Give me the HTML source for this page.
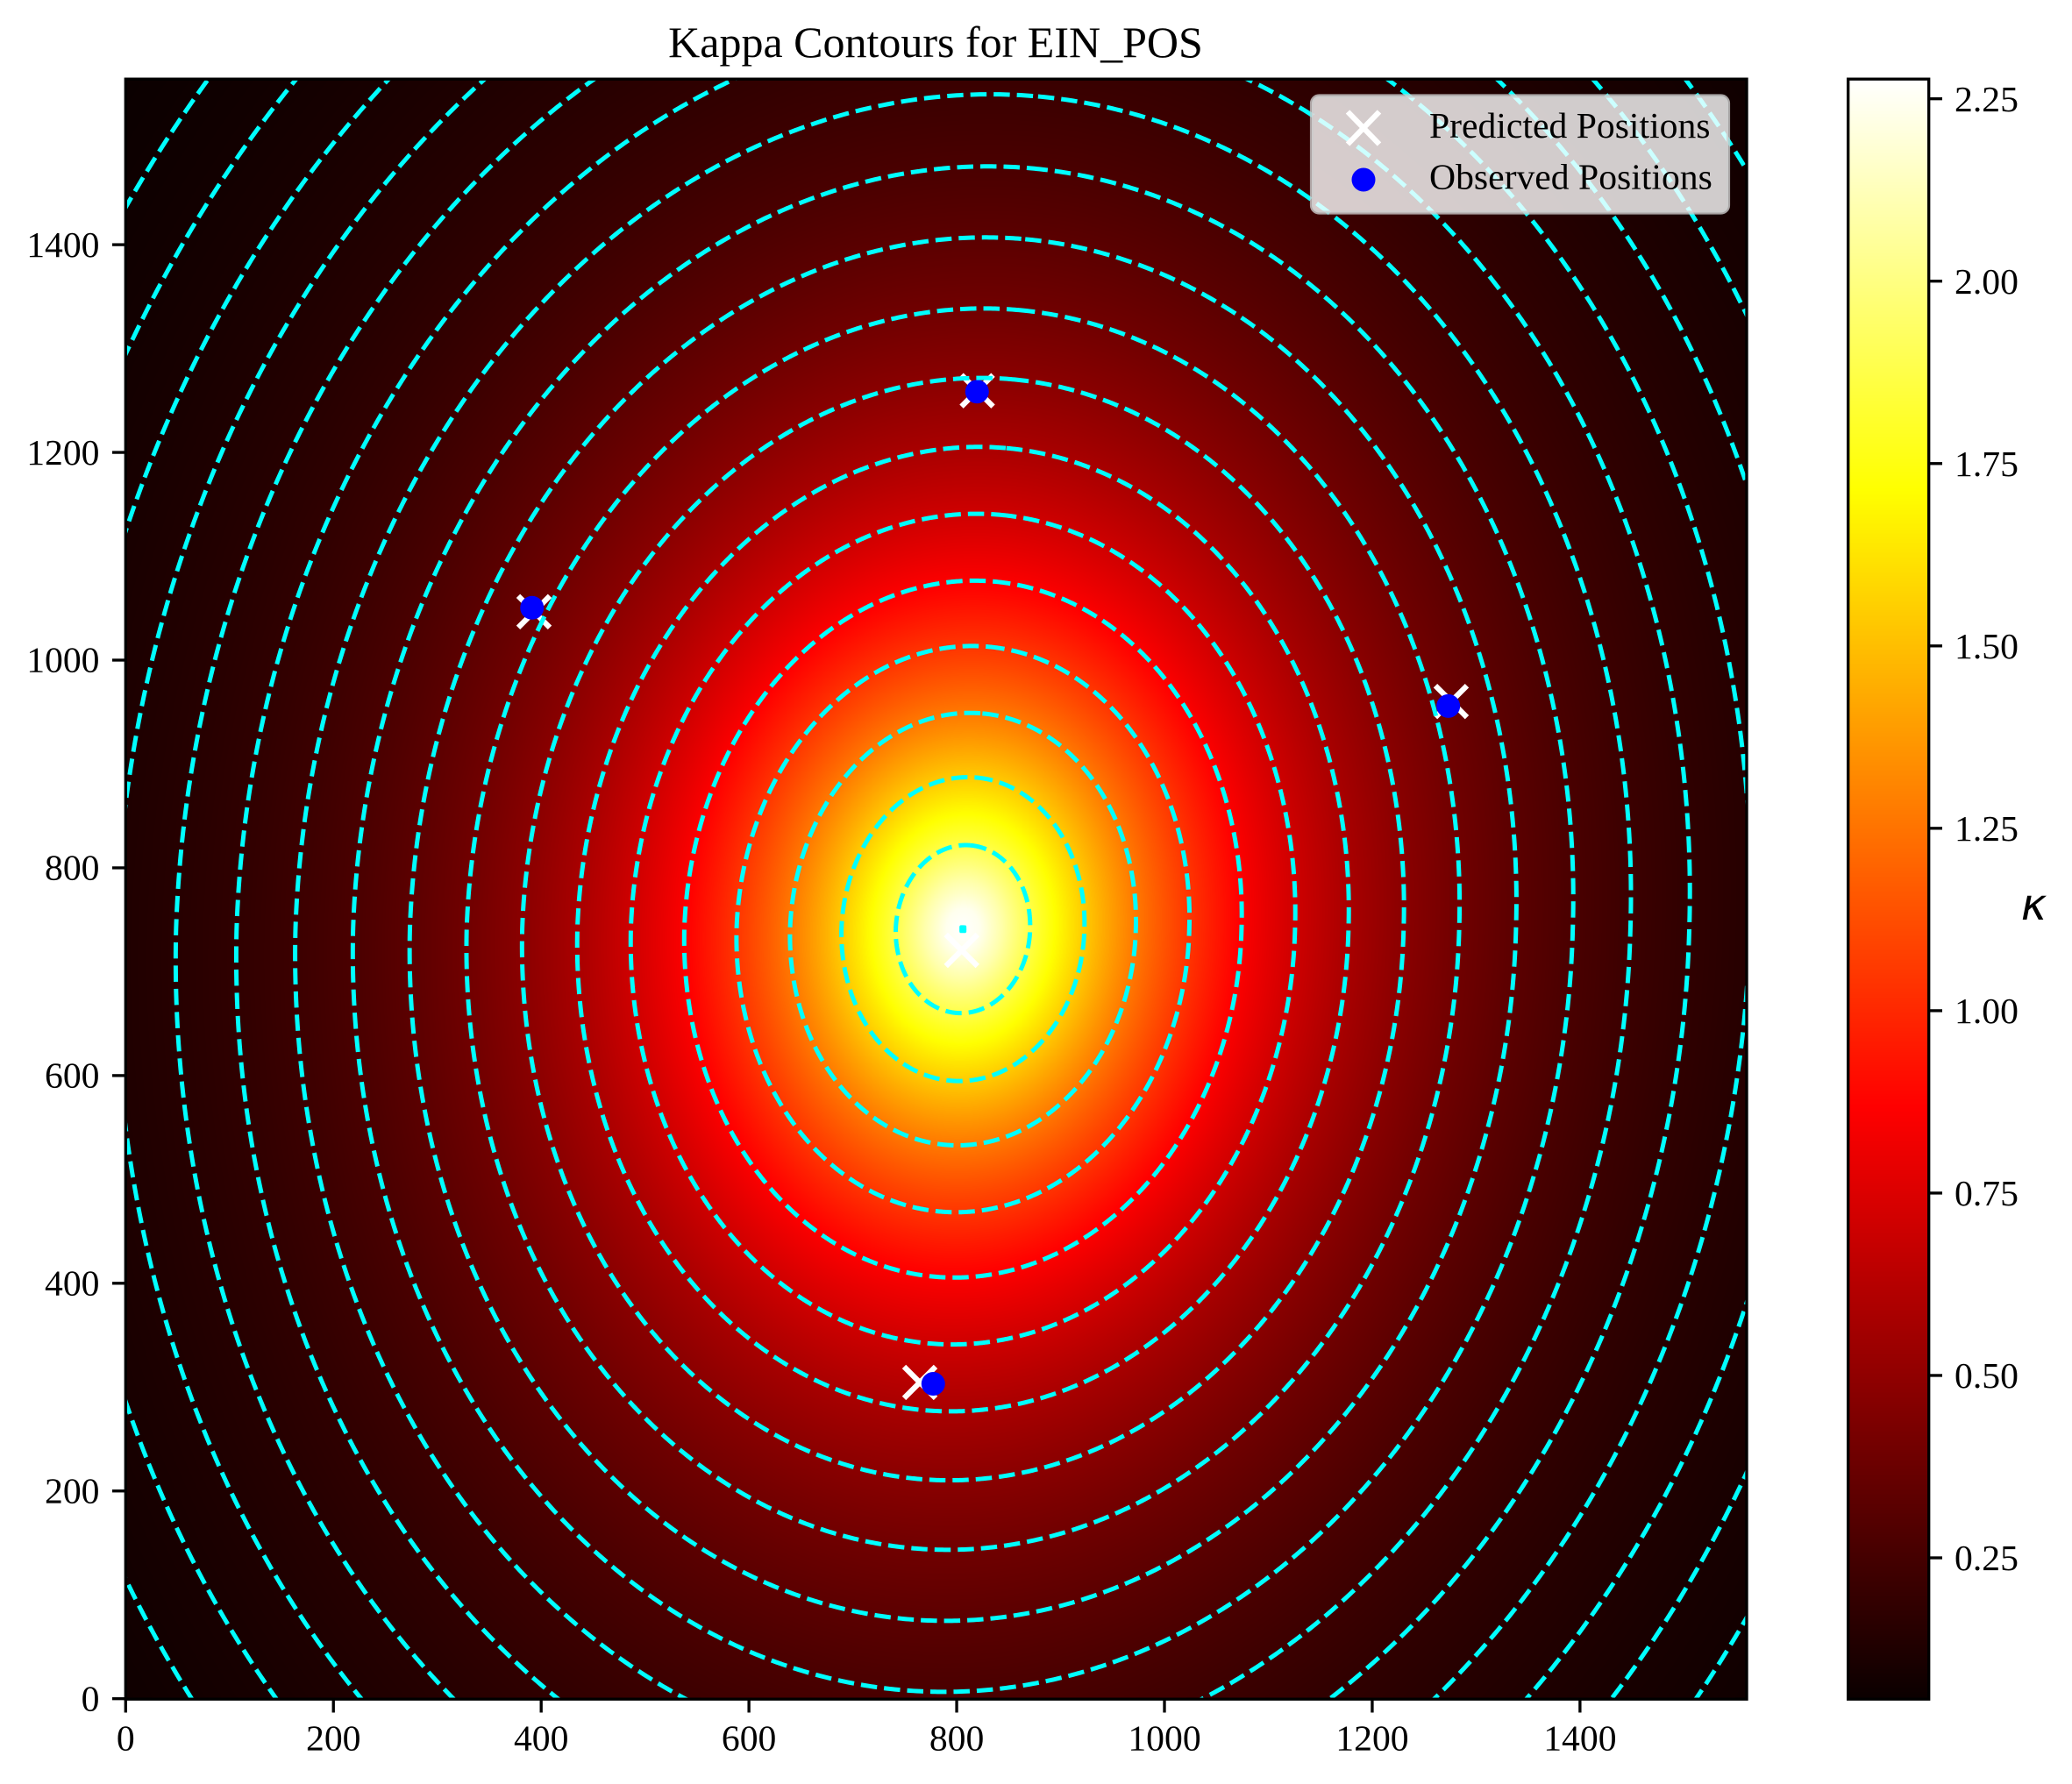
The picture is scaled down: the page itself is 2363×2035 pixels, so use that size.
<!DOCTYPE html>
<html lang="en">
<head>
<meta charset="utf-8">
<title>Kappa Contours for EIN_POS</title>
<style>
html,body{margin:0;padding:0;background:#fff;}
#stage{position:relative;width:2363px;height:2035px;overflow:hidden;background:#fff;}
canvas{position:absolute;display:block;}
svg{position:absolute;left:0;top:0;display:block;}
text{font-family:"Liberation Serif","Times New Roman",serif;fill:#000;}
</style>
</head>
<body>
<div id="stage">
<canvas id="heat" width="1849" height="1848" style="left:143px;top:90px"></canvas>
<canvas id="cbar" width="92" height="1848" style="left:2108px;top:90px"></canvas>
<svg id="plot" width="2363" height="2035" viewBox="0 0 2363 2035">
  <defs><clipPath id="axclip"><rect x="143.3" y="90.2" width="1848.7" height="1848"/></clipPath></defs>
  <text x="1067" y="65" font-size="50" text-anchor="middle">Kappa Contours for EIN_POS</text>
  <g id="predicted"></g>
  <g id="observed"></g>
  <g id="contours" clip-path="url(#axclip)"></g>
  <g id="legend">
    <rect x="1496" y="109.5" width="475" height="133" rx="8.3" ry="8.3" fill="#fff" fill-opacity="0.8" stroke="#ccc" stroke-opacity="0.8" stroke-width="4.17"/>
    <g>
      <path d="M1537 127.5L1573 164.5M1573 127.5L1537 164.5" stroke="#fff" stroke-width="6.25" fill="none"/>
      <text x="1630" y="157" font-size="41.67">Predicted Positions</text>
    </g>
    <g>
      <circle cx="1555" cy="205" r="13.5" fill="#0000ff"/>
      <text x="1630" y="215.5" font-size="41.67">Observed Positions</text>
    </g>
  </g>
  <g id="axes-ticks"></g>
  <rect x="143.3" y="90.2" width="1848.7" height="1848" fill="none" stroke="#000" stroke-width="3.33"/>
  <rect x="2107.7" y="90.2" width="92" height="1848" fill="none" stroke="#000" stroke-width="3.33"/>
  <text x="2319.5" y="1049" font-size="50" text-anchor="middle" font-style="italic" style="font-family:'DejaVu Sans',sans-serif">κ</text>
</svg>
</div>
<script>
// ---- chart data ----
const xTicks = [0, 200, 400, 600, 800, 1000, 1200, 1400];
const yTicks = [0, 200, 400, 600, 800, 1000, 1200, 1400];
const colorbarTicks = [0.25, 0.50, 0.75, 1.00, 1.25, 1.50, 1.75, 2.00, 2.25];
const kappaMin = 0.0563;
const kappaMax = 2.277;
const predictedX = [393.1, 819.8, 1276, 764.5, 804.8];
const predictedY = [1046.6, 1259.4, 960.2, 304.5, 720.6];
const observedX = [391.2, 819.6, 1273.2, 777.4];
const observedY = [1050.4, 1258.5, 955.8, 303.2];
const lensCenter = [806, 741];
const axisRatio = 0.797;
const tiltRadians = 0.09;
const lowerShear = 0.008;
// radial kappa profile along the elliptical semi-major radius
const profileRadius = [0, 20, 45, 81, 146.5, 208.5, 273, 336, 400.5, 465, 531.5, 598.5, 667, 735.5, 805, 876, 949, 1022, 1095, 1172, 1250, 1330, 2400];
const profileKappa = [2.277, 2.24, 2.10, 1.875, 1.543, 1.27, 1.045, 0.86, 0.708, 0.583, 0.48, 0.395, 0.325, 0.267, 0.22, 0.181, 0.149, 0.123, 0.101, 0.083, 0.0685, 0.0565, 0.0563];
const contourLevels = [2.274, 1.875, 1.543, 1.27, 1.045, 0.86, 0.708, 0.583, 0.48, 0.395, 0.325, 0.267, 0.22, 0.181, 0.149, 0.123, 0.101, 0.083, 0.0685];

// ---- axis functions ----
const SCALE = 1.1847, X0 = 143.3, Y0 = 1937.7;
function sx(v){ return X0 + v * SCALE; }
function sy(v){ return Y0 - v * SCALE; }
const CB_TOP = 90.2, CB_BOTTOM = 1938.2;
function scb(v){ return CB_BOTTOM - (v - kappaMin) / (kappaMax - kappaMin) * (CB_BOTTOM - CB_TOP); }

const NS = 'http://www.w3.org/2000/svg';
function make(tag, parent, attrs){
  const el = document.createElementNS(NS, tag);
  for (const k in attrs) el.setAttribute(k, attrs[k]);
  parent.appendChild(el);
  return el;
}

// ---- colormap and field ----
function hot(t){
  t = Math.max(0, Math.min(1, t));
  const a = 0.365079, b = 0.746032;
  const r = t < a ? 0.0416 + (1 - 0.0416) * t / a : 1;
  const g = t < a ? 0 : (t < b ? (t - a) / (b - a) : 1);
  const bl = t < b ? 0 : (t - b) / (1 - b);
  return [r * 255, g * 255, bl * 255];
}
function kappaAt(R){
  for (let i = 1; i < profileRadius.length; i++) {
    if (R <= profileRadius[i]) {
      const f = (R - profileRadius[i-1]) / (profileRadius[i] - profileRadius[i-1]);
      return Math.exp(Math.log(profileKappa[i-1]) * (1 - f) + Math.log(profileKappa[i]) * f);
    }
  }
  return profileKappa[profileKappa.length - 1];
}
function radiusAt(k){
  for (let i = 1; i < profileKappa.length; i++) {
    if (k >= profileKappa[i]) {
      const f = (Math.log(profileKappa[i-1]) - Math.log(k)) / (Math.log(profileKappa[i-1]) - Math.log(profileKappa[i]));
      return profileRadius[i-1] + f * (profileRadius[i] - profileRadius[i-1]);
    }
  }
  return profileRadius[profileRadius.length - 1];
}
const ux = Math.sin(tiltRadians), uy = Math.cos(tiltRadians);
const vx = uy, vy = -ux;

// ---- heatmap ----
(function(){
  const c = document.getElementById('heat'), g = c.getContext('2d');
  const W = c.width, H = c.height, img = g.createImageData(W, H), d = img.data;
  const lut = [];
  for (let i = 0; i <= 6000; i++) {
    lut.push(hot((kappaAt(i / 2.5) - kappaMin) / (kappaMax - kappaMin)));
  }
  let p = 0;
  for (let j = 0; j < H; j++) {
    const dy = (Y0 - (90 + j + 0.5)) / SCALE - lensCenter[1];
    const shift = dy < 0 ? lowerShear * (-dy) : 0;
    for (let i = 0; i < W; i++) {
      const dx = (143 + i + 0.5 - X0) / SCALE - lensCenter[0] - shift;
      const a = dx * ux + dy * uy, b = (dx * vx + dy * vy) / axisRatio;
      const col = lut[Math.min(6000, Math.round(Math.sqrt(a * a + b * b) * 2.5))];
      d[p++] = col[0]; d[p++] = col[1]; d[p++] = col[2]; d[p++] = 255;
    }
  }
  g.putImageData(img, 0, 0);
})();

// ---- colorbar ----
(function(){
  const c = document.getElementById('cbar'), g = c.getContext('2d');
  for (let j = 0; j < c.height; j++) {
    const col = hot(1 - (j + 0.5) / c.height);
    g.fillStyle = 'rgb(' + Math.round(col[0]) + ',' + Math.round(col[1]) + ',' + Math.round(col[2]) + ')';
    g.fillRect(0, j, c.width, 1);
  }
})();

// ---- contours (only the runs inside the axes are emitted) ----
const contourGroup = document.getElementById('contours');
function addContourRun(run){
  if (run.length < 2) return;
  const el = make('polyline', contourGroup, {points: run.join(' '), fill: 'none', stroke: '#00ffff', 'stroke-width': 5, 'stroke-dasharray': '18.5 8'});
  
  
}
contourLevels.forEach(function(level){
  const R = radiusAt(level);
  const N = 1440;
  const runs = [];
  let run = [];
  for (let i = 0; i <= N; i++) {
    const t = i / N * 2 * Math.PI;
    const a = R * Math.cos(t), b = R * axisRatio * Math.sin(t);
    const dy = a * uy + b * vy;
    const shift = dy < 0 ? lowerShear * (-dy) : 0;
    const px = sx(lensCenter[0] + a * ux + b * vx + shift);
    const py = sy(lensCenter[1] + dy);
    if (px > 138 && px < 1997 && py > 85 && py < 1943) {
      run.push(px.toFixed(2) + ',' + py.toFixed(2));
    } else if (run.length) {
      runs.push(run);
      run = [];
    }
  }
  if (run.length) runs.push(run);
  runs.forEach(addContourRun);
});

// ---- markers ----
const predGroup = document.getElementById('predicted');
predictedX.forEach(function(v, i){
  const x = sx(v), y = sy(predictedY[i]), h = 18;
  const el = make('path', predGroup, {d: 'M' + (x-h) + ' ' + (y-h) + 'L' + (x+h) + ' ' + (y+h) + 'M' + (x+h) + ' ' + (y-h) + 'L' + (x-h) + ' ' + (y+h), stroke: '#fff', 'stroke-width': 6.25, fill: 'none'});
  
  
});
const obsGroup = document.getElementById('observed');
observedX.forEach(function(v, i){
  const el = make('circle', obsGroup, {cx: sx(v), cy: sy(observedY[i]), r: 13.5, fill: '#0000ff'});
  
  
});

// ---- ticks ----
const tickGroup = document.getElementById('axes-ticks');
xTicks.forEach(function(v){
  const x = sx(v);
  const tick = make('line', tickGroup, {x1: x, x2: x, y1: 1938.2, y2: 1953.5, stroke: '#000', 'stroke-width': 3.33});
  
  
  const label = make('text', tickGroup, {x: x, y: 1996.7, 'font-size': 41.67, 'text-anchor': 'middle'});
  label.textContent = String(v);
  
  
});
yTicks.forEach(function(v){
  const y = sy(v);
  const tick = make('line', tickGroup, {x1: 143.3, x2: 128, y1: y, y2: y, stroke: '#000', 'stroke-width': 3.33});
  
  
  const label = make('text', tickGroup, {x: 113.5, y: y + 13.7, 'font-size': 41.67, 'text-anchor': 'end'});
  label.textContent = String(v);
  
  
});
colorbarTicks.forEach(function(v){
  const y = scb(v);
  const tick = make('line', tickGroup, {x1: 2199.7, x2: 2215, y1: y, y2: y, stroke: '#000', 'stroke-width': 3.33});
  
  
  const label = make('text', tickGroup, {x: 2229, y: y + 14.2, 'font-size': 41.67});
  label.textContent = v.toFixed(2);
  
  
});
</script>
</body>
</html>
